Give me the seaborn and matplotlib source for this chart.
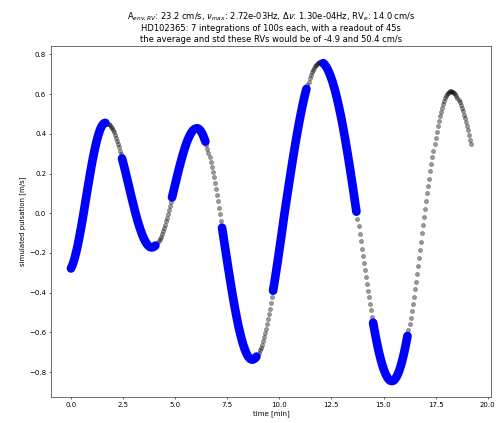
import numpy as np
import matplotlib
matplotlib.use("Agg")
import matplotlib.pyplot as plt
import seaborn as sns
import pandas as pd

# Simulated radial-velocity pulsation signal [m/s], one sample every 3 s
cadence_s = 3
pulsation = [
    -0.278, -0.266, -0.252, -0.235, -0.216, -0.195, -0.172, -0.147, -0.120, -0.092,
    -0.063, -0.033, -0.002, 0.030, 0.062, 0.094, 0.126, 0.157, 0.188, 0.219,
    0.248, 0.276, 0.302, 0.327, 0.350, 0.371, 0.390, 0.407, 0.422, 0.433,
    0.443, 0.450, 0.454, 0.455, 0.454, 0.452, 0.448, 0.443, 0.436, 0.427,
    0.418, 0.407, 0.394, 0.381, 0.366, 0.350, 0.333, 0.315, 0.296, 0.276,
    0.256, 0.235, 0.214, 0.192, 0.171, 0.149, 0.127, 0.104, 0.083, 0.061,
    0.040, 0.019, -0.001, -0.020, -0.039, -0.056, -0.073, -0.088, -0.103, -0.116,
    -0.128, -0.139, -0.148, -0.156, -0.162, -0.167, -0.170, -0.172, -0.172, -0.170,
    -0.167, -0.163, -0.157, -0.149, -0.140, -0.130, -0.118, -0.105, -0.090, -0.075,
    -0.058, -0.040, -0.022, -0.003, 0.017, 0.038, 0.059, 0.080, 0.102, 0.124,
    0.145, 0.167, 0.189, 0.210, 0.231, 0.251, 0.270, 0.289, 0.307, 0.324,
    0.340, 0.355, 0.369, 0.381, 0.392, 0.402, 0.410, 0.417, 0.422, 0.425,
    0.427, 0.428, 0.427, 0.423, 0.418, 0.410, 0.401, 0.389, 0.376, 0.361,
    0.344, 0.325, 0.305, 0.283, 0.260, 0.235, 0.208, 0.181, 0.152, 0.122,
    0.092, 0.060, 0.028, -0.005, -0.039, -0.073, -0.107, -0.141, -0.176, -0.210,
    -0.244, -0.278, -0.311, -0.344, -0.376, -0.408, -0.438, -0.468, -0.496, -0.523,
    -0.549, -0.574, -0.597, -0.618, -0.638, -0.657, -0.673, -0.688, -0.701, -0.712,
    -0.721, -0.728, -0.733, -0.736, -0.737, -0.736, -0.733, -0.729, -0.722, -0.713,
    -0.703, -0.691, -0.677, -0.662, -0.644, -0.625, -0.605, -0.583, -0.559, -0.534,
    -0.508, -0.480, -0.451, -0.421, -0.390, -0.358, -0.325, -0.291, -0.256, -0.221,
    -0.185, -0.148, -0.112, -0.075, -0.037, 0.000, 0.035, 0.070, 0.105, 0.139,
    0.173, 0.207, 0.241, 0.274, 0.306, 0.338, 0.369, 0.399, 0.428, 0.457,
    0.484, 0.511, 0.536, 0.561, 0.584, 0.606, 0.626, 0.645, 0.663, 0.680,
    0.695, 0.709, 0.721, 0.731, 0.740, 0.748, 0.754, 0.758, 0.761, 0.762,
    0.762, 0.760, 0.756, 0.752, 0.745, 0.738, 0.729, 0.718, 0.706, 0.693,
    0.678, 0.663, 0.645, 0.627, 0.607, 0.586, 0.564, 0.541, 0.516, 0.491,
    0.464, 0.437, 0.408, 0.379, 0.348, 0.317, 0.285, 0.253, 0.219, 0.185,
    0.151, 0.116, 0.080, 0.044, 0.008, -0.029, -0.066, -0.103, -0.140, -0.178,
    -0.214, -0.250, -0.285, -0.321, -0.355, -0.390, -0.424, -0.457, -0.489, -0.520,
    -0.551, -0.580, -0.608, -0.635, -0.661, -0.685, -0.708, -0.729, -0.749, -0.767,
    -0.783, -0.797, -0.810, -0.820, -0.829, -0.836, -0.841, -0.844, -0.845, -0.844,
    -0.841, -0.836, -0.828, -0.819, -0.807, -0.794, -0.778, -0.761, -0.741, -0.720,
    -0.697, -0.673, -0.646, -0.618, -0.588, -0.557, -0.525, -0.491, -0.456, -0.420,
    -0.383, -0.345, -0.306, -0.266, -0.225, -0.184, -0.143, -0.101, -0.059, -0.017,
    0.023, 0.062, 0.100, 0.138, 0.175, 0.212, 0.248, 0.283, 0.316, 0.349,
    0.380, 0.410, 0.438, 0.464, 0.488, 0.511, 0.531, 0.550, 0.566, 0.580,
    0.592, 0.601, 0.608, 0.613, 0.615, 0.615, 0.613, 0.610, 0.605, 0.599,
    0.591, 0.582, 0.571, 0.559, 0.545, 0.531, 0.514, 0.497, 0.479, 0.459,
    0.438, 0.417, 0.394, 0.371, 0.347,
]

# Observing sequence
n_integrations = 7
exptime_s = 100
readout_s = 45

title_lines = [
    "A$_{env,RV}$: 23.2 cm/s, $\\nu_{max}$: 2.72e-03Hz, $\\Delta\\nu$: 1.30e-04Hz, RV$_e$: 14.0 cm/s",
    "HD102365: 7 integrations of 100s each, with a readout of 45s",
    "the average and std these RVs would be of -4.9 and 50.4 cm/s",
]

sec = np.arange(len(pulsation)) * cadence_s
cycle = exptime_s + readout_s
exposed = ((sec % cycle) < exptime_s) & (sec < n_integrations * cycle)

df = pd.DataFrame({
    "time": sec / 60.0,
    "rv": pulsation,
    "exposed": exposed,
    "exposure": sec // cycle,
})

fig = plt.figure(figsize=(10.08, 8.46), dpi=50)
ax = fig.add_axes([51 / 504, 1 - 397 / 423, 440 / 504, 351 / 423])

# full signal as translucent black dots
sns.scatterplot(data=df, x="time", y="rv", color="k", alpha=0.4, s=36,
                edgecolor="k", linewidth=0.8, ax=ax)

# samples inside each exposure as a thick blue trace
sns.lineplot(data=df[df["exposed"]], x="time", y="rv", units="exposure",
             estimator=None, sort=False, color="b", linewidth=12.5,
             solid_capstyle="round", solid_joinstyle="round", ax=ax)

ax.set_xlabel("time [min]")
ax.set_ylabel("simulated pulsation [m/s]")
ax.set_title("\n".join(title_lines))

fig.savefig("out.png", dpi=50)
